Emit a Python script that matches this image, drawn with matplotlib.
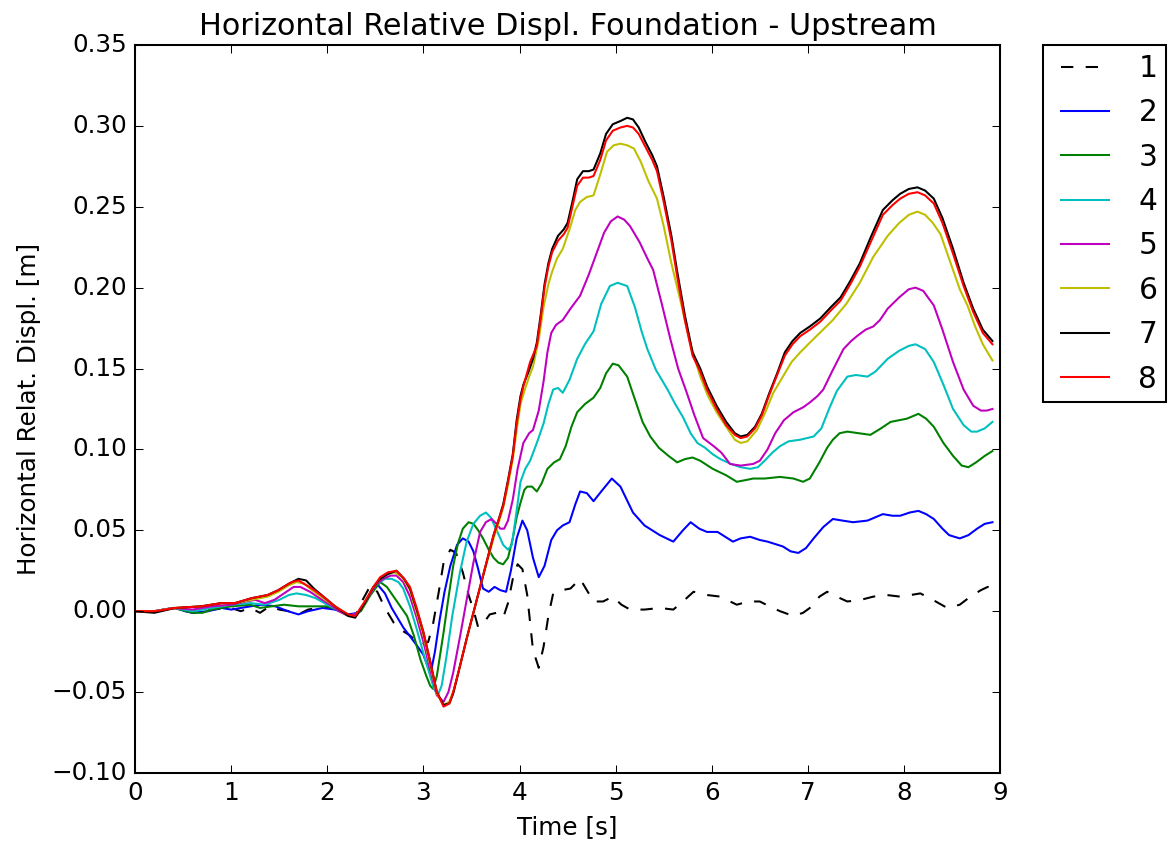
import matplotlib
matplotlib.use("Agg")
import matplotlib.pyplot as plt

# ---- time histories (time [s], horizontal relative displacement [m]) ----
t1 = [0, 0.2, 0.4, 0.6, 0.8, 1.0, 1.1, 1.2, 1.3, 1.4, 1.5, 1.6, 1.7, 1.8, 1.9, 2.0, 2.1, 2.2, 2.3,
      2.35, 2.45, 2.52, 2.6, 2.69, 2.78, 2.86, 2.97, 3.05, 3.1, 3.16, 3.21, 3.28, 3.34, 3.41, 3.47,
      3.52, 3.57, 3.63, 3.69, 3.76, 3.83, 3.88, 3.93, 3.98, 4.03, 4.08, 4.14, 4.20, 4.25, 4.30, 4.35,
      4.44, 4.53, 4.63, 4.70, 4.77, 4.87, 4.97, 5.06, 5.15, 5.3, 5.46, 5.6, 5.7, 5.81, 5.95, 6.09,
      6.26, 6.38, 6.5, 6.6, 6.71, 6.85, 6.95, 7.02, 7.12, 7.2, 7.3, 7.41, 7.55, 7.68, 7.82, 7.96,
      8.07, 8.17, 8.3, 8.45, 8.58, 8.69, 8.8, 8.87, 8.92]
d1 = [0.000, 0.000, 0.002, -0.001, 0.001, 0.002, 0.000, 0.002, -0.001, 0.003, 0.001, 0.000, -0.002,
      0.001, 0.002, 0.002, 0.002, -0.002, -0.002, 0.005, 0.016, 0.012, 0.002, -0.007, -0.012, -0.015,
      -0.021, -0.019, -0.008, 0.012, 0.030, 0.038, 0.036, 0.024, 0.010, 0.001, -0.010, -0.007, -0.002,
      -0.001, -0.004, 0.005, 0.020, 0.029, 0.026, 0.010, -0.024, -0.035, -0.022, -0.003, 0.011, 0.013,
      0.014, 0.020, 0.013, 0.006, 0.006, 0.009, 0.004, 0.001, 0.001, 0.002, 0.001, 0.006, 0.012, 0.010,
      0.009, 0.004, 0.006, 0.006, 0.003, 0.000, -0.003, -0.001, 0.002, 0.009, 0.012, 0.009, 0.006,
      0.007, 0.009, 0.010, 0.009, 0.010, 0.011, 0.007, 0.002, 0.004, 0.009, 0.013, 0.015, 0.014]

t2 = [0, 0.2, 0.42, 0.52, 0.6, 0.76, 0.9, 1.0, 1.1, 1.2, 1.32, 1.46, 1.59, 1.70, 1.80, 1.95, 2.08,
      2.22, 2.32, 2.40, 2.47, 2.53, 2.60, 2.67, 2.79, 2.93, 3.00, 3.05, 3.08, 3.12, 3.17, 3.22, 3.28,
      3.35, 3.41, 3.47, 3.52, 3.57, 3.62, 3.68, 3.74, 3.80, 3.86, 3.91, 3.97, 4.03, 4.08, 4.14, 4.20,
      4.26, 4.33, 4.39, 4.45, 4.52, 4.58, 4.63, 4.70, 4.77, 4.85, 4.96, 5.05, 5.18, 5.30, 5.46, 5.60,
      5.70, 5.78, 5.87, 5.95, 6.06, 6.14, 6.22, 6.30, 6.40, 6.50, 6.58, 6.74, 6.82, 6.90, 6.98, 7.06,
      7.16, 7.26, 7.36, 7.47, 7.62, 7.70, 7.78, 7.88, 7.96, 8.06, 8.15, 8.23, 8.31, 8.40, 8.47, 8.58,
      8.67, 8.76, 8.84, 8.92]
d2 = [0.000, 0.000, 0.002, 0.000, -0.001, 0.000, 0.002, 0.001, 0.002, 0.003, 0.004, 0.003, 0.000,
      -0.002, 0.000, 0.002, 0.001, -0.002, -0.001, 0.006, 0.014, 0.016, 0.011, 0.002, -0.010, -0.021,
      -0.027, -0.035, -0.037, -0.025, -0.005, 0.012, 0.028, 0.041, 0.045, 0.043, 0.037, 0.026, 0.014,
      0.012, 0.015, 0.013, 0.012, 0.025, 0.045, 0.056, 0.050, 0.033, 0.021, 0.028, 0.044, 0.050, 0.053,
      0.055, 0.066, 0.074, 0.073, 0.068, 0.074, 0.082, 0.077, 0.061, 0.053, 0.047, 0.043, 0.050, 0.055,
      0.051, 0.049, 0.049, 0.046, 0.043, 0.045, 0.046, 0.044, 0.043, 0.040, 0.037, 0.036, 0.039, 0.045,
      0.052, 0.057, 0.056, 0.055, 0.056, 0.058, 0.060, 0.059, 0.059, 0.061, 0.062, 0.060, 0.057, 0.051,
      0.047, 0.045, 0.047, 0.051, 0.054, 0.055]

t3 = [0, 0.2, 0.4, 0.6, 0.7, 0.8, 1.0, 1.2, 1.3, 1.42, 1.55, 1.7, 1.85, 2.0, 2.1, 2.25, 2.35, 2.45,
      2.55, 2.62, 2.69, 2.76, 2.83, 2.90, 2.97, 3.03, 3.07, 3.10, 3.14, 3.21, 3.26, 3.31, 3.36, 3.41,
      3.47, 3.52, 3.57, 3.62, 3.68, 3.73, 3.78, 3.83, 3.88, 3.93, 3.97, 4.01, 4.05, 4.08, 4.13, 4.18,
      4.23, 4.29, 4.36, 4.42, 4.48, 4.54, 4.60, 4.68, 4.77, 4.84, 4.90, 4.97, 5.03, 5.12, 5.20, 5.28,
      5.36, 5.45, 5.55, 5.64, 5.72, 5.80, 5.88, 6.01, 6.15, 6.26, 6.35, 6.43, 6.55, 6.71, 6.85, 6.95,
      7.02, 7.12, 7.20, 7.26, 7.33, 7.41, 7.53, 7.65, 7.76, 7.86, 8.03, 8.15, 8.23, 8.31, 8.41, 8.51,
      8.60, 8.67, 8.75, 8.84, 8.92]
d3 = [0.000, 0.000, 0.002, -0.001, -0.001, 0.001, 0.003, 0.004, 0.002, 0.003, 0.004, 0.003, 0.003,
      0.003, 0.001, -0.003, 0.000, 0.010, 0.018, 0.015, 0.009, 0.003, -0.003, -0.015, -0.030, -0.040,
      -0.046, -0.048, -0.040, -0.013, 0.008, 0.028, 0.042, 0.051, 0.055, 0.054, 0.050, 0.045, 0.038,
      0.033, 0.030, 0.029, 0.033, 0.045, 0.058, 0.067, 0.075, 0.077, 0.077, 0.074, 0.079, 0.088, 0.092,
      0.094, 0.102, 0.114, 0.123, 0.128, 0.132, 0.138, 0.147, 0.153, 0.152, 0.145, 0.131, 0.117, 0.108,
      0.101, 0.096, 0.092, 0.094, 0.095, 0.093, 0.088, 0.084, 0.080, 0.081, 0.082, 0.082, 0.083, 0.082,
      0.080, 0.082, 0.092, 0.101, 0.106, 0.110, 0.111, 0.110, 0.109, 0.113, 0.117, 0.119, 0.122, 0.119,
      0.114, 0.104, 0.096, 0.090, 0.089, 0.092, 0.096, 0.099]

t4 = [0, 0.2, 0.4, 0.6, 0.8, 1.0, 1.2, 1.35, 1.5, 1.6, 1.68, 1.78, 1.88, 2.0, 2.1, 2.22, 2.32, 2.42,
      2.5, 2.6, 2.67, 2.74, 2.79, 2.86, 2.93, 3.00, 3.07, 3.11, 3.15, 3.19, 3.24, 3.30, 3.38, 3.45,
      3.52, 3.59, 3.65, 3.70, 3.77, 3.83, 3.88, 3.92, 3.97, 4.01, 4.06, 4.11, 4.18, 4.25, 4.30, 4.35,
      4.40, 4.45, 4.52, 4.60, 4.68, 4.77, 4.85, 4.94, 5.02, 5.12, 5.20, 5.27, 5.33, 5.42, 5.54, 5.62,
      5.70, 5.78, 5.85, 5.93, 6.01, 6.09, 6.20, 6.30, 6.40, 6.48, 6.55, 6.63, 6.71, 6.80, 6.92, 7.06,
      7.14, 7.22, 7.30, 7.41, 7.50, 7.62, 7.70, 7.83, 7.95, 8.05, 8.12, 8.22, 8.31, 8.41, 8.51, 8.62,
      8.70, 8.76, 8.84, 8.92]
d4 = [0.000, 0.000, 0.002, 0.000, 0.002, 0.004, 0.005, 0.004, 0.007, 0.010, 0.011, 0.010, 0.008,
      0.004, 0.001, -0.003, -0.001, 0.008, 0.016, 0.020, 0.020, 0.018, 0.014, 0.003, -0.011, -0.026,
      -0.040, -0.048, -0.052, -0.046, -0.028, -0.003, 0.024, 0.043, 0.054, 0.059, 0.061, 0.058, 0.049,
      0.041, 0.038, 0.041, 0.062, 0.080, 0.088, 0.093, 0.104, 0.116, 0.128, 0.137, 0.138, 0.135, 0.143,
      0.156, 0.165, 0.173, 0.190, 0.201, 0.203, 0.201, 0.188, 0.173, 0.162, 0.149, 0.137, 0.128, 0.120,
      0.110, 0.104, 0.101, 0.097, 0.094, 0.091, 0.089, 0.088, 0.089, 0.093, 0.098, 0.102, 0.105, 0.106,
      0.108, 0.113, 0.125, 0.136, 0.145, 0.146, 0.145, 0.148, 0.156, 0.161, 0.164, 0.165, 0.162, 0.154,
      0.140, 0.125, 0.115, 0.111, 0.111, 0.113, 0.117]

t5 = [0, 0.2, 0.4, 0.6, 0.8, 1.0, 1.15, 1.25, 1.35, 1.45, 1.55, 1.65, 1.72, 1.82, 1.92, 2.03, 2.12,
      2.22, 2.32, 2.42, 2.5, 2.58, 2.66, 2.72, 2.79, 2.86, 2.93, 3.00, 3.07, 3.14, 3.21, 3.26, 3.31,
      3.38, 3.45, 3.52, 3.59, 3.65, 3.71, 3.76, 3.80, 3.84, 3.88, 3.93, 3.98, 4.04, 4.10, 4.14, 4.20,
      4.25, 4.29, 4.33, 4.38, 4.45, 4.53, 4.63, 4.72, 4.80, 4.88, 4.95, 5.02, 5.09, 5.15, 5.25, 5.33,
      5.39, 5.48, 5.57, 5.65, 5.74, 5.82, 5.91, 6.02, 6.10, 6.19, 6.30, 6.43, 6.50, 6.58, 6.66, 6.75,
      6.85, 6.95, 7.02, 7.10, 7.16, 7.25, 7.37, 7.45, 7.51, 7.60, 7.68, 7.75, 7.83, 7.95, 8.05, 8.12,
      8.20, 8.31, 8.40, 8.51, 8.62, 8.72, 8.80, 8.86, 8.92]
d5 = [0.000, 0.000, 0.002, 0.001, 0.003, 0.004, 0.006, 0.007, 0.005, 0.007, 0.011, 0.015, 0.015,
      0.012, 0.008, 0.004, 0.000, -0.003, -0.001, 0.008, 0.016, 0.020, 0.022, 0.022, 0.018, 0.009,
      -0.004, -0.019, -0.036, -0.052, -0.056, -0.050, -0.038, -0.016, 0.007, 0.030, 0.049, 0.055, 0.057,
      0.054, 0.051, 0.051, 0.056, 0.069, 0.088, 0.104, 0.110, 0.112, 0.124, 0.142, 0.160, 0.172, 0.177,
      0.180, 0.187, 0.195, 0.208, 0.221, 0.234, 0.241, 0.244, 0.242, 0.238, 0.228, 0.218, 0.211, 0.190,
      0.168, 0.150, 0.135, 0.121, 0.107, 0.102, 0.098, 0.091, 0.090, 0.091, 0.093, 0.100, 0.110, 0.118,
      0.123, 0.126, 0.129, 0.133, 0.137, 0.148, 0.162, 0.167, 0.170, 0.174, 0.176, 0.180, 0.187, 0.194,
      0.199, 0.200, 0.198, 0.189, 0.174, 0.154, 0.137, 0.127, 0.124, 0.124, 0.125]

t6 = [0, 0.2, 0.42, 0.69, 0.9, 1.04, 1.21, 1.38, 1.49, 1.6, 1.68, 1.76, 1.84, 1.98, 2.08, 2.22, 2.3,
      2.39, 2.48, 2.55, 2.63, 2.70, 2.78, 2.86, 2.93, 3.00, 3.07, 3.14, 3.21, 3.27, 3.32, 3.38, 3.45,
      3.52, 3.59, 3.66, 3.73, 3.78, 3.83, 3.88, 3.93, 3.97, 4.01, 4.05, 4.10, 4.14, 4.20, 4.25, 4.30,
      4.34, 4.39, 4.45, 4.52, 4.58, 4.63, 4.70, 4.77, 4.84, 4.91, 4.98, 5.05, 5.12, 5.19, 5.26, 5.34,
      5.43, 5.50, 5.58, 5.67, 5.77, 5.88, 5.96, 6.05, 6.15, 6.24, 6.30, 6.37, 6.47, 6.55, 6.64, 6.74,
      6.83, 6.92, 7.02, 7.14, 7.26, 7.40, 7.54, 7.68, 7.83, 7.95, 8.05, 8.14, 8.22, 8.30, 8.38, 8.48,
      8.58, 8.66, 8.74, 8.82, 8.92]
d6 = [0.000, 0.000, 0.002, 0.003, 0.005, 0.005, 0.007, 0.009, 0.012, 0.016, 0.018, 0.017, 0.013,
      0.007, 0.003, -0.003, -0.003, 0.005, 0.015, 0.020, 0.023, 0.024, 0.021, 0.013, -0.001, -0.015,
      -0.033, -0.051, -0.058, -0.056, -0.048, -0.034, -0.017, -0.001, 0.015, 0.030, 0.045, 0.054, 0.064,
      0.078, 0.094, 0.112, 0.128, 0.136, 0.145, 0.151, 0.168, 0.188, 0.202, 0.210, 0.218, 0.224, 0.236,
      0.248, 0.253, 0.256, 0.257, 0.270, 0.284, 0.288, 0.289, 0.288, 0.286, 0.278, 0.266, 0.255, 0.238,
      0.215, 0.193, 0.167, 0.145, 0.133, 0.123, 0.114, 0.106, 0.104, 0.105, 0.112, 0.122, 0.135, 0.145,
      0.154, 0.160, 0.166, 0.173, 0.180, 0.190, 0.203, 0.219, 0.232, 0.240, 0.245, 0.247, 0.245, 0.240,
      0.233, 0.216, 0.199, 0.189, 0.176, 0.165, 0.155]

t7 = [0, 0.2, 0.42, 0.69, 0.9, 1.04, 1.21, 1.38, 1.49, 1.6, 1.7, 1.78, 1.86, 1.98, 2.08, 2.22, 2.29,
      2.39, 2.48, 2.55, 2.63, 2.72, 2.80, 2.86, 2.93, 3.00, 3.07, 3.14, 3.21, 3.27, 3.31, 3.38, 3.45,
      3.52, 3.59, 3.66, 3.73, 3.78, 3.83, 3.88, 3.93, 3.97, 4.01, 4.04, 4.10, 4.14, 4.18, 4.22, 4.26,
      4.30, 4.34, 4.40, 4.46, 4.50, 4.55, 4.60, 4.66, 4.72, 4.77, 4.84, 4.90, 4.97, 5.05, 5.12, 5.18,
      5.24, 5.31, 5.38, 5.43, 5.50, 5.58, 5.64, 5.72, 5.80, 5.88, 5.95, 6.05, 6.15, 6.24, 6.30, 6.37,
      6.45, 6.52, 6.60, 6.68, 6.76, 6.84, 6.92, 7.02, 7.13, 7.24, 7.34, 7.44, 7.54, 7.66, 7.78, 7.88,
      7.96, 8.05, 8.14, 8.22, 8.31, 8.40, 8.51, 8.62, 8.72, 8.82, 8.92]
d7 = [0.000, -0.001, 0.002, 0.003, 0.005, 0.005, 0.008, 0.010, 0.013, 0.017, 0.020, 0.019, 0.014,
      0.008, 0.003, -0.003, -0.004, 0.005, 0.015, 0.020, 0.023, 0.025, 0.020, 0.014, 0.001, -0.013,
      -0.031, -0.050, -0.058, -0.057, -0.051, -0.034, -0.017, -0.001, 0.015, 0.031, 0.047, 0.056, 0.066,
      0.081, 0.097, 0.118, 0.133, 0.140, 0.149, 0.156, 0.166, 0.183, 0.202, 0.215, 0.224, 0.232, 0.236,
      0.240, 0.253, 0.267, 0.272, 0.272, 0.273, 0.283, 0.295, 0.301, 0.303, 0.305, 0.304, 0.299, 0.290,
      0.282, 0.275, 0.256, 0.232, 0.210, 0.183, 0.160, 0.150, 0.139, 0.127, 0.117, 0.110, 0.108, 0.109,
      0.114, 0.122, 0.135, 0.147, 0.160, 0.167, 0.172, 0.176, 0.181, 0.188, 0.194, 0.204, 0.215, 0.232,
      0.248, 0.254, 0.258, 0.261, 0.262, 0.260, 0.255, 0.243, 0.224, 0.203, 0.187, 0.174, 0.167]

t8 = [0, 0.21, 0.42, 0.69, 0.9, 1.04, 1.21, 1.38, 1.49, 1.63, 1.70, 1.84, 1.98, 2.08, 2.22, 2.29,
      2.39, 2.48, 2.55, 2.63, 2.72, 2.80, 2.86, 2.93, 3.00, 3.07, 3.14, 3.21, 3.27, 3.31, 3.38, 3.45,
      3.52, 3.59, 3.66, 3.73, 3.78, 3.83, 3.88, 3.93, 3.97, 4.01, 4.04, 4.11, 4.18, 4.22, 4.26, 4.30,
      4.34, 4.40, 4.46, 4.50, 4.55, 4.60, 4.66, 4.72, 4.77, 4.84, 4.90, 4.97, 5.05, 5.12, 5.18, 5.24,
      5.31, 5.38, 5.43, 5.50, 5.58, 5.64, 5.72, 5.80, 5.88, 5.95, 6.05, 6.15, 6.24, 6.30, 6.37, 6.45,
      6.52, 6.60, 6.68, 6.76, 6.84, 6.92, 7.02, 7.13, 7.24, 7.34, 7.44, 7.54, 7.66, 7.78, 7.88, 7.96,
      8.05, 8.14, 8.22, 8.31, 8.40, 8.51, 8.62, 8.72, 8.82, 8.92]
d8 = [0.000, 0.000, 0.002, 0.003, 0.005, 0.005, 0.008, 0.010, 0.013, 0.018, 0.019, 0.014, 0.008,
      0.003, -0.002, -0.003, 0.006, 0.015, 0.021, 0.024, 0.025, 0.020, 0.015, 0.002, -0.013, -0.031,
      -0.050, -0.059, -0.057, -0.050, -0.034, -0.017, -0.001, 0.015, 0.031, 0.047, 0.056, 0.065, 0.080,
      0.096, 0.116, 0.131, 0.139, 0.154, 0.164, 0.181, 0.200, 0.213, 0.222, 0.229, 0.233, 0.237, 0.250,
      0.263, 0.268, 0.268, 0.269, 0.279, 0.291, 0.297, 0.299, 0.300, 0.299, 0.295, 0.287, 0.279, 0.272,
      0.253, 0.229, 0.207, 0.180, 0.158, 0.148, 0.137, 0.125, 0.115, 0.109, 0.107, 0.108, 0.113, 0.121,
      0.134, 0.146, 0.158, 0.165, 0.170, 0.174, 0.179, 0.186, 0.192, 0.202, 0.213, 0.229, 0.245, 0.251,
      0.255, 0.258, 0.259, 0.257, 0.252, 0.240, 0.221, 0.201, 0.185, 0.172, 0.165]

labels = ["1", "2", "3", "4", "5", "6", "7", "8"]
colors = ["k", "b", "g", "c", "m", "y", "k", "r"]
dashed = [True, False, False, False, False, False, False, False]
series = [(t1, d1), (t2, d2), (t3, d3), (t4, d4), (t5, d5), (t6, d6), (t7, d7), (t8, d8)]

x_ticks = list(range(0, 10))
y_ticks = [-0.10, -0.05, 0.00, 0.05, 0.10, 0.15, 0.20, 0.25, 0.30, 0.35]

plt.style.use("classic")
plt.rcParams["figure.facecolor"] = "white"
plt.rcParams["savefig.facecolor"] = "white"

fig = plt.figure(figsize=(7.9, 5.6825), dpi=148)
ax = fig.add_axes([0.1155, 0.0809, 0.7399, 0.8656])

for (t, d), c, dsh, lab in zip(series, colors, dashed, labels):
    ls = (0, (6, 6)) if dsh else "-"
    ax.plot(t, d, color=c, linestyle=ls, label=lab, linewidth=1.0)

ax.set_xlim(0, 9)
ax.set_ylim(-0.10, 0.35)
ax.set_xticks(x_ticks)
ax.set_yticks(y_ticks)
ax.set_title("Horizontal Relative Displ. Foundation - Upstream", fontsize=14.7)
ax.set_xlabel("Time [s]")
ax.set_ylabel("Horizontal Relat. Displ. [m]")

ax.legend(bbox_to_anchor=(1.05, 1), loc=2, borderaxespad=0.0, numpoints=2,
          handlelength=2.23, labelspacing=0.52, borderpad=0.3, handletextpad=0.68)

fig.savefig("out.png", dpi=148)
